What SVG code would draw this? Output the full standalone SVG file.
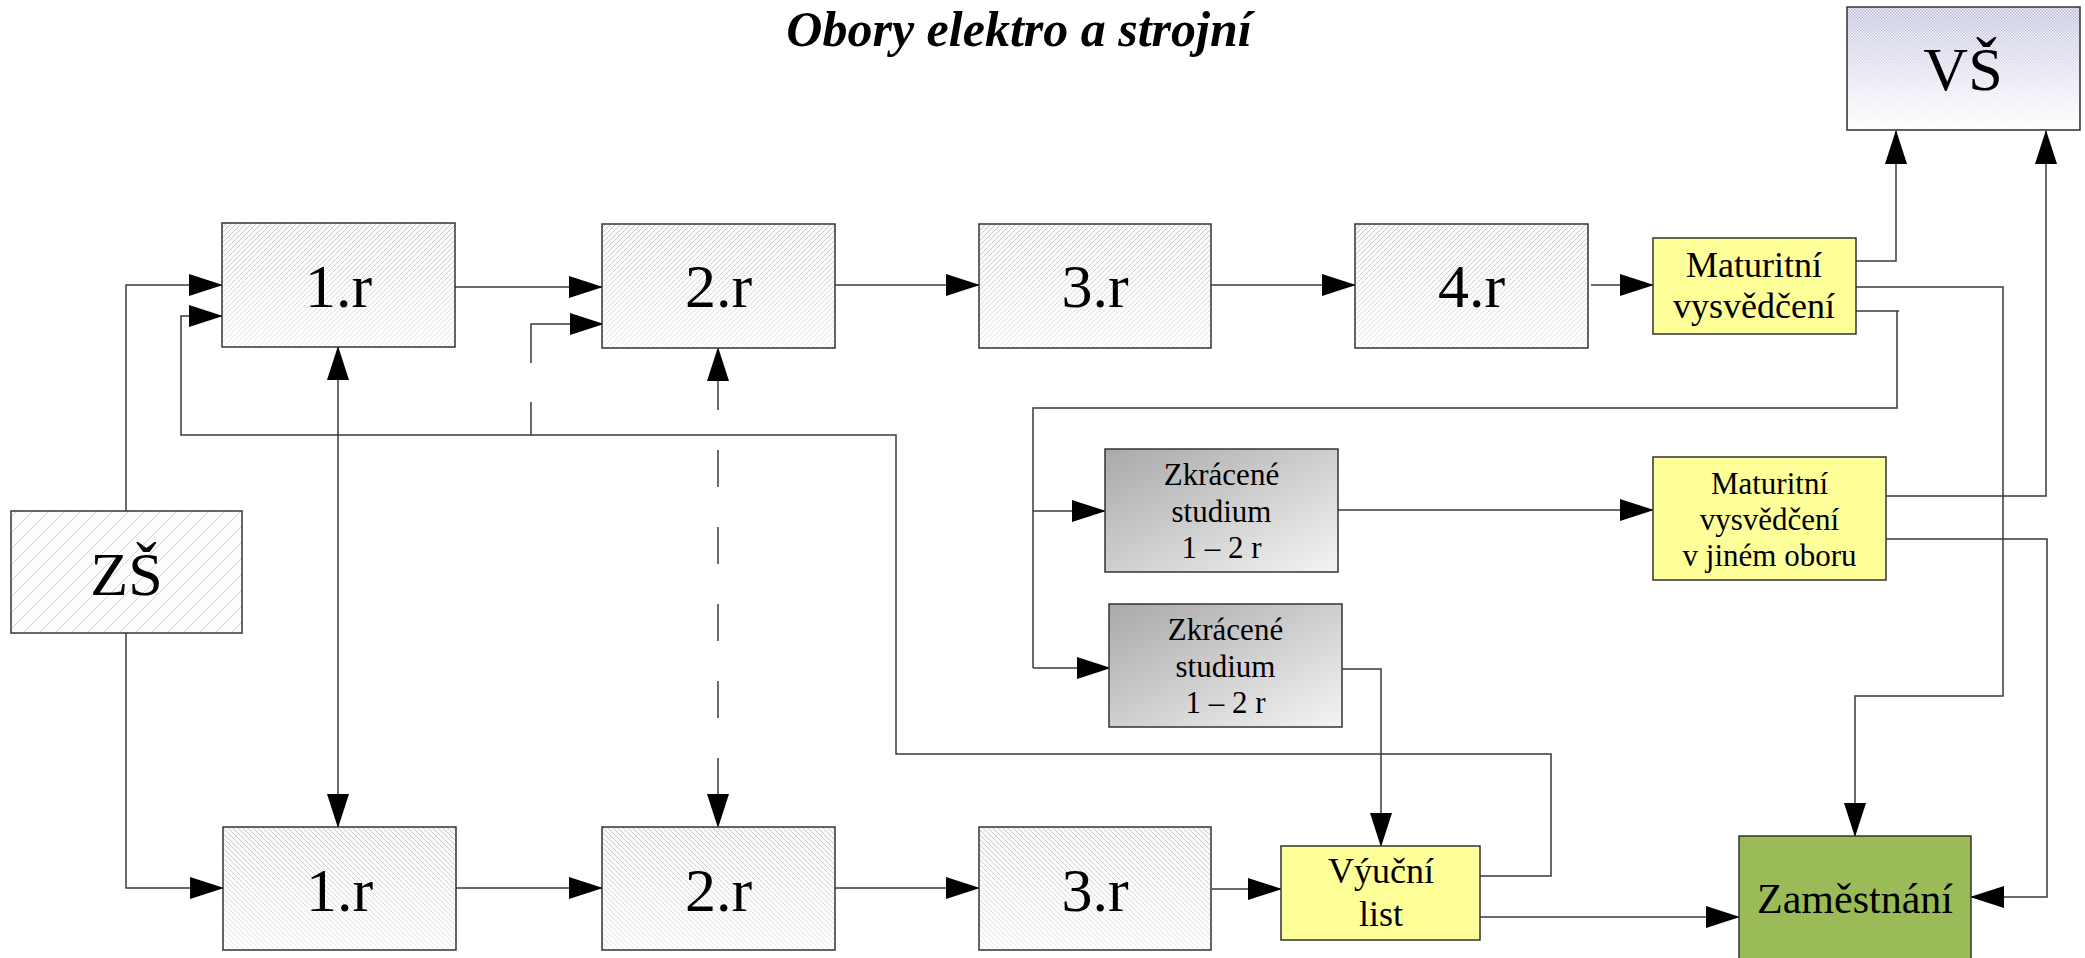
<svg xmlns="http://www.w3.org/2000/svg" width="2085" height="958" viewBox="0 0 2085 958">
<style>
.box{stroke:#333;stroke-width:1.5}
.lbl{font-family:"Liberation Serif","Times New Roman",serif;fill:#000;text-anchor:middle}
.big{font-size:62px}
.mid{font-size:36px}
.sm{font-size:31px}
.con{fill:none;stroke:#3a3a3a;stroke-width:1.5}
.arr{marker-end:url(#ah)}
.dash{stroke-dasharray:37 40;stroke-dashoffset:52}
</style>
<defs>
<marker id="ah" markerUnits="userSpaceOnUse" markerWidth="34" markerHeight="22" refX="33" refY="11" orient="auto-start-reverse">
<path d="M0,0 L34,11 L0,22 Z" fill="#000"/>
</marker>
<pattern id="hatchR" width="5" height="5" patternUnits="userSpaceOnUse">
<rect width="5" height="5" fill="#fafafa"/>
<path d="M-1,6 L6,-1 M-1,1 L1,-1 M4,6 L6,4" stroke="#c8c8c8" stroke-width="1"/>
</pattern>
<pattern id="hatchL" width="5" height="5" patternUnits="userSpaceOnUse">
<rect width="5" height="5" fill="#fafafa"/>
<path d="M-1,-1 L6,6 M4,-1 L6,1 M-1,4 L1,6" stroke="#c8c8c8" stroke-width="1"/>
</pattern>
<pattern id="hatchZS" width="16" height="16" patternUnits="userSpaceOnUse">
<rect width="16" height="16" fill="#fdfdfd"/>
<path d="M-2,18 L18,-2 M-2,2 L2,-2 M14,18 L18,14" stroke="#d2d2d2" stroke-width="1"/>
</pattern>
<pattern id="checkVS" width="3" height="3" patternUnits="userSpaceOnUse">
<rect width="3" height="3" fill="#ececf6"/>
<rect width="1.5" height="1.5" fill="#b4b4d8"/>
<rect x="1.5" y="1.5" width="1.5" height="1.5" fill="#b4b4d8"/>
</pattern>
<linearGradient id="fadeW" x1="0" y1="0" x2="0" y2="1">
<stop offset="0" stop-color="#fff" stop-opacity="0"/>
<stop offset="1" stop-color="#fff" stop-opacity="0.6"/>
</linearGradient>
<linearGradient id="fadeVS" x1="0" y1="0" x2="0" y2="1">
<stop offset="0" stop-color="#fff" stop-opacity="0.05"/>
<stop offset="1" stop-color="#fff" stop-opacity="1"/>
</linearGradient>
<linearGradient id="grayG" x1="0" y1="0" x2="1" y2="1">
<stop offset="0" stop-color="#a9a9a9"/>
<stop offset="1" stop-color="#f4f4f4"/>
</linearGradient>
</defs>
<rect width="2085" height="958" fill="#fff"/>
<text class="lbl" x="1019" y="46" style="font-size:50px;font-weight:bold;font-style:italic">Obory elektro a strojní</text>

<g id="connectors">
<path class="con arr" d="M126,511 V285 H222"/>
<path class="con arr" d="M126,633 V888 H223"/>
<path class="con" d="M338,347 V827" style="marker-start:url(#ah);marker-end:url(#ah)"/>
<path class="con dash" d="M718,348 V827" style="marker-start:url(#ah);marker-end:url(#ah)"/>
<path class="con arr" d="M455,287 H602"/>
<path class="con arr" d="M835,285 H979"/>
<path class="con arr" d="M1211,285 H1355"/>
<path class="con arr" d="M1591,285 H1653"/>
<path class="con arr" d="M1856,261 H1896 V131"/>
<path class="con arr" d="M1856,287 H2003 V696 H1855 V836"/>
<path class="con" d="M1856,311 H1899 M1897,311 V408 H1033 V668"/>
<path class="con arr" d="M1033,511 H1105"/>
<path class="con arr" d="M1033,668 H1110"/>
<path class="con arr" d="M1338,510 H1653"/>
<path class="con arr" d="M1342,669 H1381 V846"/>
<path class="con arr" d="M1886,496 H2046 V131"/>
<path class="con arr" d="M1886,539 H2047 V897 H1971"/>
<path class="con arr" d="M1477,917 H1739"/>
<path class="con arr" d="M1480,876 H1551 V754 H896 V435 H181 V316 H222"/>
<path class="con" d="M531,435 V402"/>
<path class="con arr" d="M531,363 V324 H603"/>
<path class="con arr" d="M456,888 H602"/>
<path class="con arr" d="M835,888 H979"/>
<path class="con arr" d="M1212,889 H1281"/>
</g>

<g id="node-zs">
<rect class="box" x="11" y="511" width="231" height="122" fill="url(#hatchZS)"/>
<text class="lbl big" x="126.5" y="595">ZŠ</text>
</g>
<g id="node-top-1r">
<rect class="box" x="222" y="223" width="233" height="124" fill="url(#hatchR)"/>
<rect x="223" y="224" width="231" height="122" fill="url(#fadeW)"/>
<text class="lbl big" x="338.5" y="307">1.r</text>
</g>
<g id="node-top-2r">
<rect class="box" x="602" y="224" width="233" height="124" fill="url(#hatchR)"/>
<rect x="603" y="225" width="231" height="122" fill="url(#fadeW)"/>
<text class="lbl big" x="718.5" y="307">2.r</text>
</g>
<g id="node-top-3r">
<rect class="box" x="979" y="224" width="232" height="124" fill="url(#hatchR)"/>
<rect x="980" y="225" width="230" height="122" fill="url(#fadeW)"/>
<text class="lbl big" x="1095" y="307">3.r</text>
</g>
<g id="node-top-4r">
<rect class="box" x="1355" y="224" width="233" height="124" fill="url(#hatchR)"/>
<rect x="1356" y="225" width="231" height="122" fill="url(#fadeW)"/>
<text class="lbl big" x="1471.5" y="307">4.r</text>
</g>
<g id="node-bot-1r">
<rect class="box" x="223" y="827" width="233" height="123" fill="url(#hatchL)"/>
<rect x="224" y="828" width="231" height="121" fill="url(#fadeW)"/>
<text class="lbl big" x="339.5" y="911">1.r</text>
</g>
<g id="node-bot-2r">
<rect class="box" x="602" y="827" width="233" height="123" fill="url(#hatchL)"/>
<rect x="603" y="828" width="231" height="121" fill="url(#fadeW)"/>
<text class="lbl big" x="718.5" y="911">2.r</text>
</g>
<g id="node-bot-3r">
<rect class="box" x="979" y="827" width="232" height="123" fill="url(#hatchL)"/>
<rect x="980" y="828" width="230" height="121" fill="url(#fadeW)"/>
<text class="lbl big" x="1095" y="911">3.r</text>
</g>
<g id="node-vs">
<rect class="box" x="1847" y="7" width="233" height="123" fill="url(#checkVS)"/>
<rect x="1848" y="8" width="231" height="121" fill="url(#fadeVS)"/>
<text class="lbl big" x="1963" y="90">VŠ</text>
</g>
<g id="node-maturita">
<rect class="box" x="1653" y="238" width="203" height="96" fill="#ffff99"/>
<text class="lbl mid" x="1754" y="277">Maturitní</text>
<text class="lbl mid" x="1754" y="318">vysvědčení</text>
</g>
<g id="node-zkracene-1">
<rect class="box" x="1105" y="449" width="233" height="123" fill="url(#grayG)"/>
<text class="lbl sm" x="1221.5" y="485">Zkrácené</text>
<text class="lbl sm" x="1221.5" y="522">studium</text>
<text class="lbl sm" x="1221.5" y="558">1 – 2 r</text>
</g>
<g id="node-zkracene-2">
<rect class="box" x="1109" y="604" width="233" height="123" fill="url(#grayG)"/>
<text class="lbl sm" x="1225.5" y="640">Zkrácené</text>
<text class="lbl sm" x="1225.5" y="677">studium</text>
<text class="lbl sm" x="1225.5" y="713">1 – 2 r</text>
</g>
<g id="node-maturita-jiny">
<rect class="box" x="1653" y="457" width="233" height="123" fill="#ffff99"/>
<text class="lbl sm" x="1769.5" y="494">Maturitní</text>
<text class="lbl sm" x="1769.5" y="530">vysvědčení</text>
<text class="lbl sm" x="1769.5" y="566">v jiném oboru</text>
</g>
<g id="node-vyucni">
<rect class="box" x="1281" y="846" width="199" height="94" fill="#ffff99"/>
<text class="lbl mid" x="1381" y="883">Výuční</text>
<text class="lbl mid" x="1381" y="926">list</text>
</g>
<g id="node-zamestnani">
<rect class="box" x="1739" y="836" width="232" height="140" fill="#9bbb59"/>
<text class="lbl" x="1855" y="913" style="font-size:42px">Zaměstnání</text>
</g>
</svg>
